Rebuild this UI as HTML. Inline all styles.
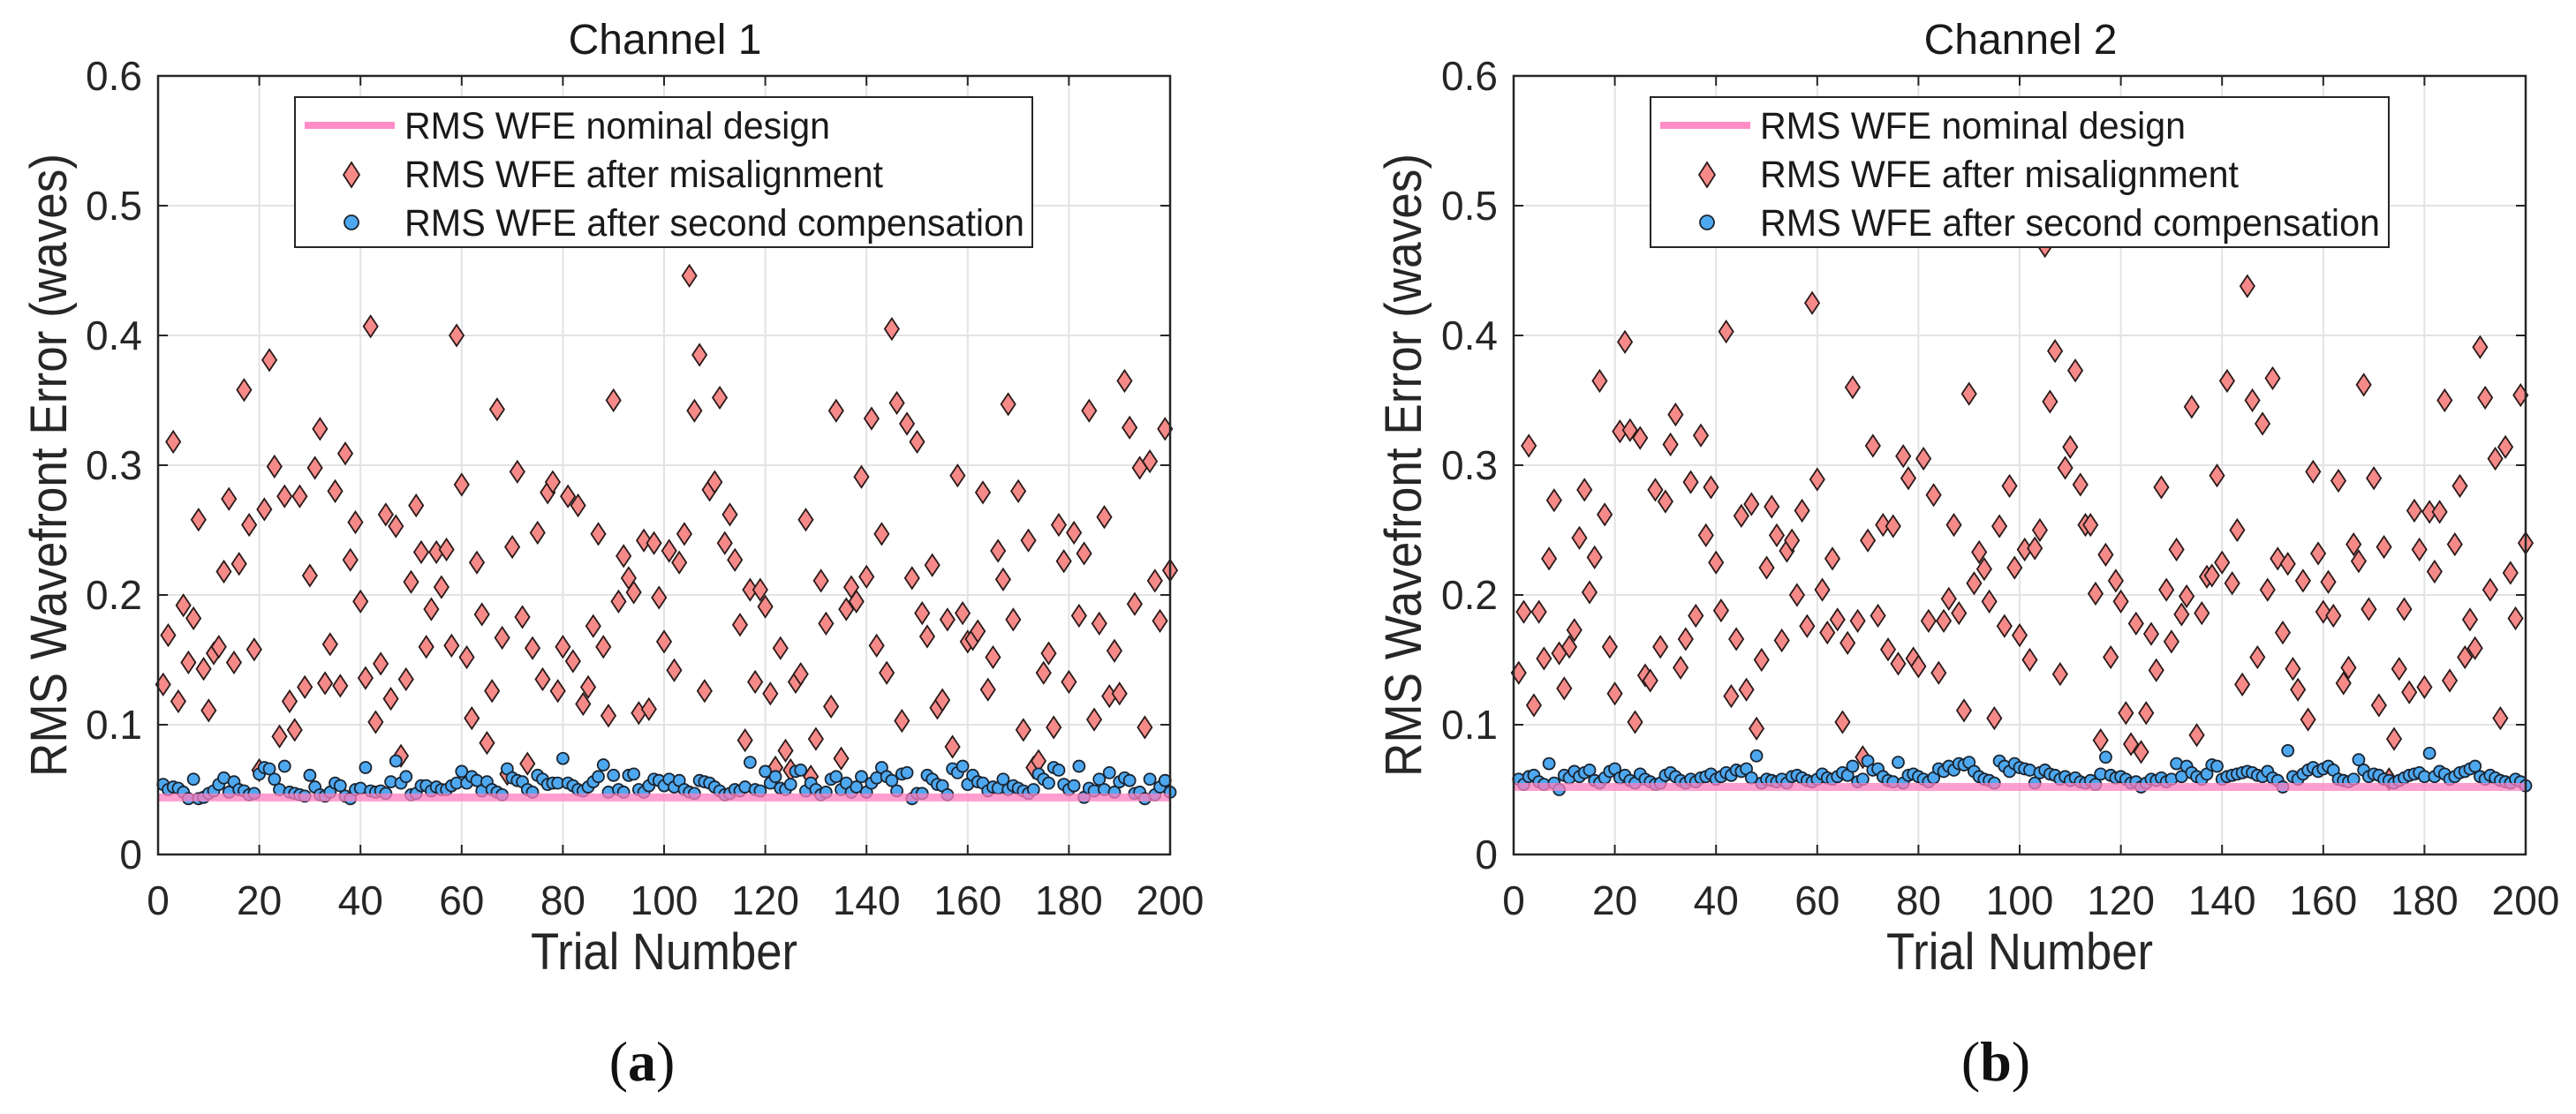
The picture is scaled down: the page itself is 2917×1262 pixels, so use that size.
<!DOCTYPE html>
<html><head><meta charset="utf-8"><style>
html,body{margin:0;padding:0;background:#fff;}
svg{display:block;font-family:"Liberation Sans",Arial,sans-serif;}
</style></head><body>
<svg id="fig" width="2917" height="1262" viewBox="0 0 2917 1262"></svg>
<script>
const trials = Array.from({length:200},(_,i)=>i+1);
const xTicks = [0,20,40,60,80,100,120,140,160,180,200];
const yTicks = [0,0.1,0.2,0.3,0.4,0.5,0.6];
const yTickLabels = ["0","0.1","0.2","0.3","0.4","0.5","0.6"];
const nominal1 = 0.044;
const nominal2 = 0.052;
const mis1 = [.131,.169,.318,.118,.192,.148,.182,.258,.143,.111,
.155,.160,.218,.274,.148,.224,.358,.254,.158,.065,
.266,.381,.299,.091,.276,.118,.096,.276,.129,.215,
.298,.328,.132,.162,.280,.130,.309,.227,.256,.195,
.136,.407,.102,.147,.262,.120,.253,.076,.135,.210,
.269,.233,.160,.189,.233,.206,.235,.161,.400,.285,
.152,.105,.225,.185,.086,.126,.343,.167,.062,.237,
.295,.183,.070,.159,.248,.135,.279,.287,.126,.160,
.276,.149,.269,.116,.129,.176,.247,.160,.107,.350,
.195,.230,.213,.202,.109,.242,.112,.240,.198,.164,
.234,.142,.225,.247,.446,.342,.385,.126,.281,.287,
.352,.240,.262,.227,.177,.088,.204,.133,.204,.191,
.124,.067,.159,.080,.065,.133,.139,.258,.060,.089,
.211,.178,.114,.342,.074,.189,.206,.195,.291,.214,
.336,.161,.247,.140,.405,.348,.103,.332,.213,.318,
.186,.168,.223,.113,.119,.181,.083,.292,.186,.164,
.166,.172,.279,.127,.152,.234,.212,.347,.181,.280,
.096,.242,.067,.072,.140,.155,.098,.254,.226,.133,
.248,.184,.232,.342,.104,.178,.260,.122,.157,.124,
.365,.329,.193,.298,.098,.303,.211,.180,.328,.219];
const comp1 = [0.054,0.050,0.052,0.051,0.048,0.043,0.058,0.043,0.044,0.047,0.049,0.054,0.059,0.048,0.056,0.050,0.049,0.046,0.047,0.062,
0.067,0.066,0.058,0.050,0.068,0.048,0.047,0.046,0.045,0.061,0.052,0.046,0.045,0.048,0.055,0.053,0.045,0.043,0.050,0.051,
0.067,0.049,0.048,0.049,0.047,0.056,0.072,0.055,0.060,0.046,0.047,0.053,0.053,0.049,0.052,0.050,0.050,0.053,0.055,0.064,
0.055,0.060,0.057,0.049,0.056,0.050,0.048,0.046,0.066,0.059,0.057,0.056,0.050,0.048,0.061,0.058,0.054,0.055,0.055,0.074,
0.055,0.053,0.050,0.049,0.052,0.056,0.060,0.069,0.048,0.061,0.050,0.048,0.061,0.062,0.050,0.048,0.053,0.058,0.057,0.053,
0.058,0.052,0.057,0.050,0.048,0.047,0.057,0.056,0.055,0.052,0.049,0.046,0.047,0.050,0.049,0.052,0.071,0.050,0.049,0.064,
0.055,0.060,0.051,0.050,0.054,0.064,0.065,0.049,0.055,0.050,0.046,0.048,0.058,0.060,0.050,0.055,0.048,0.052,0.060,0.048,
0.055,0.059,0.067,0.060,0.057,0.049,0.062,0.063,0.043,0.047,0.047,0.061,0.058,0.054,0.053,0.046,0.066,0.063,0.068,0.054,
0.061,0.056,0.055,0.049,0.052,0.051,0.058,0.050,0.053,0.051,0.049,0.047,0.050,0.062,0.058,0.055,0.067,0.065,0.054,0.050,
0.053,0.068,0.044,0.051,0.049,0.058,0.050,0.063,0.048,0.056,0.059,0.057,0.047,0.048,0.043,0.058,0.046,0.052,0.057,0.048];
const mis2 = [.140,.187,.315,.115,.187,.151,.228,.273,.155,.128,
.160,.173,.244,.281,.202,.229,.365,.262,.160,.124,
.326,.395,.327,.102,.321,.138,.134,.281,.160,.272,
.316,.339,.144,.166,.287,.184,.323,.246,.283,.225,
.188,.403,.122,.166,.261,.127,.270,.097,.150,.221,
.268,.246,.165,.234,.242,.200,.265,.176,.425,.289,
.204,.171,.228,.181,.102,.163,.360,.180,.075,.242,
.315,.184,.254,.158,.253,.147,.307,.290,.151,.145,
.305,.180,.277,.140,.180,.197,.254,.186,.111,.355,
.209,.233,.220,.195,.105,.253,.176,.284,.221,.169,
.235,.150,.236,.250,.469,.349,.388,.139,.298,.314,
.373,.285,.254,.254,.201,.088,.231,.152,.211,.195,
.109,.085,.178,.079,.109,.170,.142,.283,.204,.164,
.235,.185,.199,.345,.092,.186,.214,.215,.292,.225,
.365,.209,.250,.131,.438,.350,.152,.332,.204,.367,
.228,.171,.224,.143,.127,.211,.104,.295,.232,.187,
.210,.184,.288,.132,.144,.239,.226,.362,.189,.290,
.115,.237,.058,.089,.143,.189,.125,.265,.235,.129,
.264,.218,.264,.350,.134,.239,.284,.152,.181,.159,
.391,.352,.204,.305,.105,.314,.217,.182,.354,.240];
const comp2 = [0.058,0.054,0.060,0.061,0.056,0.054,0.070,0.055,0.050,0.061,0.059,0.064,0.060,0.063,0.065,0.057,0.055,0.059,0.064,0.066,
0.059,0.061,0.057,0.055,0.062,0.058,0.056,0.054,0.055,0.061,0.063,0.060,0.057,0.055,0.058,0.056,0.059,0.060,0.062,0.058,
0.060,0.063,0.061,0.065,0.064,0.066,0.059,0.076,0.055,0.058,0.057,0.056,0.058,0.055,0.060,0.061,0.059,0.057,0.056,0.058,
0.062,0.059,0.058,0.060,0.063,0.061,0.068,0.056,0.058,0.072,0.065,0.066,0.060,0.057,0.056,0.071,0.055,0.061,0.062,0.060,
0.058,0.056,0.059,0.066,0.064,0.068,0.065,0.070,0.069,0.071,0.064,0.060,0.058,0.057,0.055,0.072,0.068,0.064,0.070,0.067,
0.066,0.065,0.055,0.063,0.065,0.062,0.061,0.058,0.060,0.057,0.059,0.056,0.055,0.057,0.054,0.062,0.075,0.061,0.059,0.060,
0.058,0.055,0.056,0.052,0.055,0.058,0.057,0.059,0.056,0.058,0.070,0.060,0.068,0.063,0.060,0.058,0.062,0.069,0.068,0.058,
0.060,0.061,0.062,0.063,0.064,0.063,0.061,0.060,0.064,0.059,0.057,0.052,0.080,0.060,0.058,0.062,0.065,0.067,0.064,0.066,
0.068,0.065,0.058,0.057,0.056,0.058,0.073,0.065,0.060,0.062,0.061,0.058,0.057,0.055,0.057,0.059,0.061,0.062,0.063,0.060,
0.078,0.060,0.064,0.062,0.058,0.060,0.063,0.064,0.066,0.068,0.060,0.058,0.061,0.059,0.057,0.056,0.055,0.058,0.056,0.053];

const NS = "http://www.w3.org/2000/svg";
const svg = document.getElementById('fig');
function mk(tag, attrs, parent){
  const e = document.createElementNS(NS, tag);
  for (const k in attrs) e.setAttribute(k, attrs[k]);
  (parent||svg).appendChild(e);
  return e;
}
function drawChart(o){
  const L=o.left, R=o.left+1146, T=86, B=968;
  const xs = v => L + v/200*(R-L);
  const ys = v => B - v/0.6*(B-T);
  const g = mk('g',{});
  
  
  mk('rect',{x:L,y:T,width:R-L,height:B-T,fill:'#fff'},g);
  xTicks.forEach(t=>{
    const l = mk('line',{x1:xs(t),x2:xs(t),y1:T,y2:B,stroke:'#e3e3e3','stroke-width':2},g);
    
    
    const tx = mk('text',{x:xs(t),y:1036,'font-size':46,'text-anchor':'middle',fill:'#262626'},g);
    tx.textContent = t;
    
    
    mk('line',{x1:xs(t),x2:xs(t),y1:B,y2:B-11,stroke:'#262626','stroke-width':2},g);
    mk('line',{x1:xs(t),x2:xs(t),y1:T,y2:T+11,stroke:'#262626','stroke-width':2},g);
  });
  yTicks.forEach((t,i)=>{
    const l = mk('line',{x1:L,x2:R,y1:ys(t),y2:ys(t),stroke:'#e3e3e3','stroke-width':2},g);
    
    
    const tx = mk('text',{x:L-18,y:ys(t)+16,'font-size':46,'text-anchor':'end',fill:'#262626'},g);
    tx.textContent = yTickLabels[i];
    
    
    mk('line',{x1:L,x2:L+11,y1:ys(t),y2:ys(t),stroke:'#262626','stroke-width':2},g);
    mk('line',{x1:R,x2:R-11,y1:ys(t),y2:ys(t),stroke:'#262626','stroke-width':2},g);
  });
  trials.forEach((t,i)=>{
    const x=xs(t), y=ys(o.mis[i]);
    const d = mk('polygon',{points:`${x},${y-12} ${x+8},${y} ${x},${y+12} ${x-8},${y}`,fill:'#f58a88',stroke:'#2b1a1a','stroke-width':1.8},g);
    
    
  });
  trials.forEach((t,i)=>{
    const c = mk('circle',{cx:xs(t),cy:ys(o.comp[i]),r:6.5,fill:'#4ea8f0',stroke:'#1a2430','stroke-width':1.8},g);
    
    
  });
  const nl = mk('line',{x1:L,x2:R,y1:ys(o.nominal),y2:ys(o.nominal),stroke:'#ff7fc0','stroke-width':9,'stroke-opacity':0.75},g);
  
  
  mk('rect',{x:L,y:T,width:R-L,height:B-T,fill:'none',stroke:'#262626','stroke-width':2.5},g);
  const lg = mk('g',{},g);
  
  
  mk('rect',{x:o.legX,y:110,width:o.legW,height:170,fill:'#fff',stroke:'#262626','stroke-width':2},lg);
  mk('line',{x1:o.legX+11,x2:o.legX+113,y1:142,y2:142,stroke:'#ff8cc6','stroke-width':8},lg);
  const mx=o.legX+64;
  mk('polygon',{points:`${mx},184 ${mx+9},198 ${mx},212 ${mx-9},198`,fill:'#f58a88',stroke:'#2b1a1a','stroke-width':1.8},lg);
  mk('circle',{cx:mx,cy:252,r:8,fill:'#4ea8f0',stroke:'#1a2430','stroke-width':1.8},lg);
  const labels=["RMS WFE nominal design","RMS WFE after misalignment","RMS WFE after second compensation"];
  const lens=[482,542,702];
  [157,212,267].forEach((y,i)=>{
    const tx = mk('text',{x:o.legX+124,y:y,'font-size':43,fill:'#1a1a1a',textLength:lens[i],lengthAdjust:'spacingAndGlyphs'},lg);
    tx.textContent = labels[i];
    
    
  });
  const ti = mk('text',{x:o.titleX,y:61,'font-size':48,'text-anchor':'middle',fill:'#1a1a1a'},g);
  ti.textContent = o.title;
  
  
  const xl = mk('text',{x:(L+R)/2,y:1098,'font-size':58,'text-anchor':'middle',fill:'#262626',textLength:302,lengthAdjust:'spacingAndGlyphs'},g);
  xl.textContent = 'Trial Number';
  
  
  const yl = mk('text',{x:0,y:0,'font-size':58,'text-anchor':'middle',fill:'#262626',textLength:706,lengthAdjust:'spacingAndGlyphs',transform:`translate(${o.ylabX},527) rotate(-90)`},g);
  yl.textContent = 'RMS Wavefront Error (waves)';
  
  
  const cap = mk('text',{x:o.capX,y:1224,'font-size':64,'text-anchor':'middle',fill:'#111','font-family':'"Liberation Serif",serif'},g);
  cap.innerHTML = '(<tspan font-weight="bold">'+o.cap+'</tspan>)';
  
  
}
drawChart({id:'chart-channel-1',left:179,mis:mis1,comp:comp1,nominal:nominal1,legX:334,legW:835,titleX:753,ylabX:75,capX:727,cap:'a',title:'Channel 1'});
drawChart({id:'chart-channel-2',left:1714,mis:mis2,comp:comp2,nominal:nominal2,legX:1869,legW:836,titleX:2288,ylabX:1609,capX:2260,cap:'b',title:'Channel 2'});
</script>
</body></html>
